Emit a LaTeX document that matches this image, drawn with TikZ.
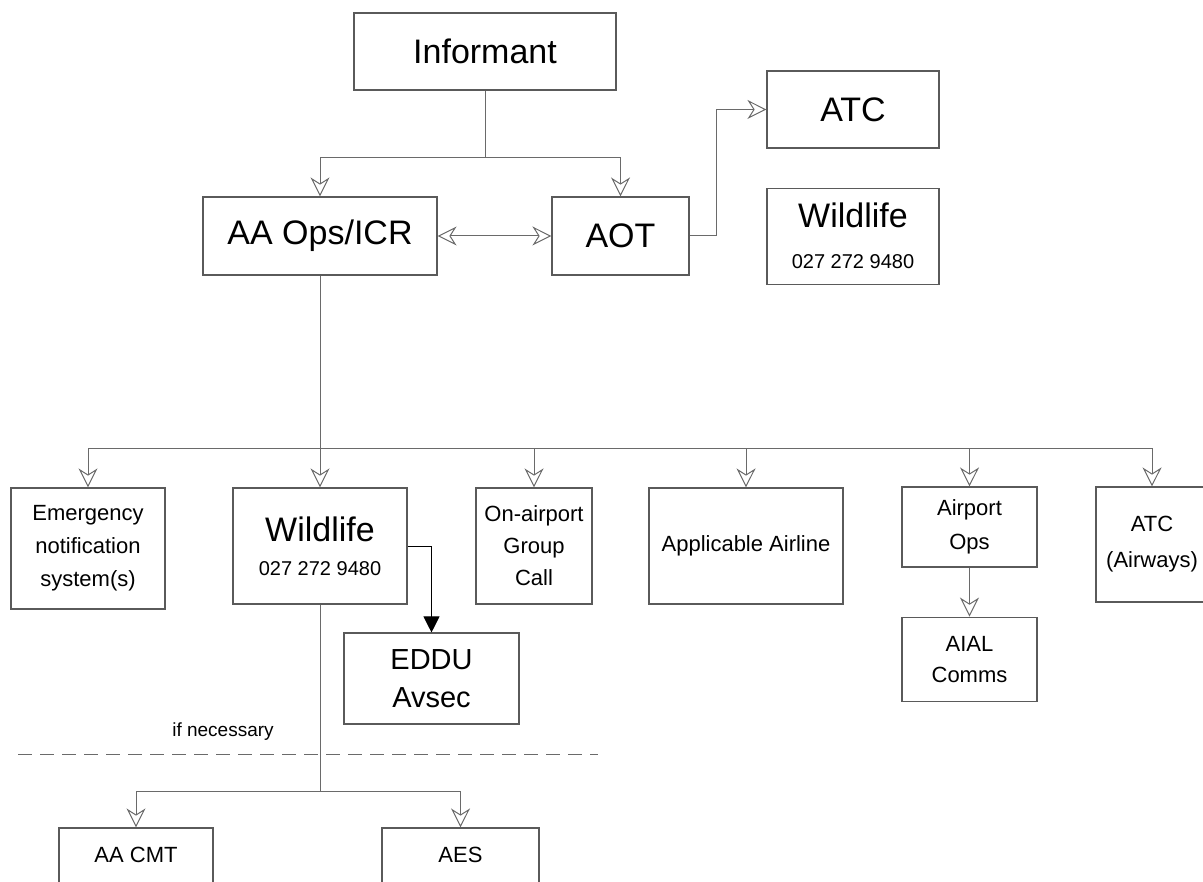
\documentclass[tikz,border=0pt]{standalone}
\usepackage{fontspec}
\setmainfont{Liberation Sans}
\usetikzlibrary{arrows.meta, positioning}
\definecolor{lineGray}{HTML}{6A6A6A}
\definecolor{boxGray}{HTML}{5A5A5A}

\tikzset{hollowtip/.tip={Stealth[open, length=19pt, width=19pt, inset=6pt]}}

\begin{document}
\begin{tikzpicture}[x=1pt, y=-1pt,
    box/.style={rectangle, draw=boxGray, line width=1.1pt, inner sep=0pt,
                align=center, font=\fontsize{22}{33}\selectfont},
    bigbox/.style={box, font=\fontsize{34}{40}\selectfont},
    conn/.style={draw=lineGray, line width=1pt},
    arr/.style={conn, -{hollowtip}},
    arrs/.style={conn, {hollowtip}-{hollowtip}},
    solidarr/.style={draw=black, line width=1pt,
                     -{Triangle[length=16pt, width=16pt]}},
  ]
  \useasboundingbox (0,0) rectangle (1203,882);
  \clip (0,0) rectangle (1203,882);

  % first contacts
  \node[bigbox, minimum width=262pt, minimum height=77pt] (inf) at (485,51.5) {Informant};
  \node[bigbox, minimum width=234pt, minimum height=78pt] (aaops) at (320,236) {AA Ops/ICR};
  \node[bigbox, minimum width=137pt, minimum height=78pt] (aot) at (620.5,236) {AOT};
  \node[bigbox, minimum width=172pt, minimum height=77pt] (atcT) at (853,109.5) {ATC};
  \node[box, font=\fontsize{20}{41}\selectfont, minimum width=172pt,
        minimum height=96pt, below=39pt of atcT] (wildT)
    {{\fontsize{34}{41}\selectfont Wildlife}\\027 272 9480};

  % notified by AA Ops/ICR
  \node[box, minimum width=154pt, minimum height=121pt] (emerg) at (88,548.5)
    {Emergency\\notification\\system(s)};
  \node[box, font=\fontsize{20}{34}\selectfont, minimum width=174pt,
        minimum height=116pt] (wildM) at (320,546)
    {{\fontsize{34}{34}\selectfont Wildlife}\\027 272 9480};
  \node[box, font=\fontsize{22}{32}\selectfont, minimum width=116pt,
        minimum height=116pt] (onair) at (534,546) {On-airport\\Group\\Call};
  \node[box, minimum width=194pt, minimum height=116pt] (appl) at (746,546) {Applicable Airline};
  \node[box, font=\fontsize{22}{34}\selectfont, minimum width=135pt,
        minimum height=80pt] (aops) at (969.5,527) {Airport\\Ops};
  \node[box, font=\fontsize{22}{31}\selectfont, minimum width=135pt,
        minimum height=84pt, below=49pt of aops] (aial) {AIAL\\Comms};
  \node[box, font=\fontsize{22}{36}\selectfont, minimum width=112pt,
        minimum height=115pt] (atcA) at (1152,544.5) {ATC\\(Airways)};
  \node[box, font=\fontsize{29}{38}\selectfont, minimum width=175pt,
        minimum height=91pt] (eddu) at (431.5,678.5) {EDDU\\Avsec};

  % below the line
  \node[box, minimum width=154pt, minimum height=64pt, text height=16pt,
        text depth=12pt] (aacmt) at (136,860) {AA CMT};
  \node[box, minimum width=157pt, minimum height=64pt, text height=16pt,
        text depth=12pt] (aes) at (460.5,860) {AES};

  \coordinate (topbus) at (485,158);
  \draw[conn] (inf.south) -- (topbus);
  \draw[arr] (topbus) -| (aaops.north);
  \draw[arr] (topbus) -| (aot.north);
  \draw[arrs] (aaops.east) -- (aot.west);
  \draw[arr] (aot.east) -- ++(27,0) |- (atcT.west);

  \coordinate (midbus) at (320,449);
  \draw[conn] (aaops.south) -- (midbus);
  \foreach \n in {emerg, wildM, onair, appl, aops, atcA}
    \draw[arr] (midbus) -| (\n.north);
  \draw[arr] (aops) -- (aial);
  \draw[solidarr] (wildM.east) -| (eddu.north);

  \coordinate (lowbus) at (320,791);
  \draw[conn] (wildM.south) -- (lowbus);
  \foreach \n in {aacmt, aes}
    \draw[arr] (lowbus) -| (\n.north);

  \draw[conn, dash pattern=on 14pt off 8pt] (18,754) -- (598,754);
  \node[font=\fontsize{19}{23}\selectfont] (ifnec) at (223,732) {if necessary};
\end{tikzpicture}
\end{document}
